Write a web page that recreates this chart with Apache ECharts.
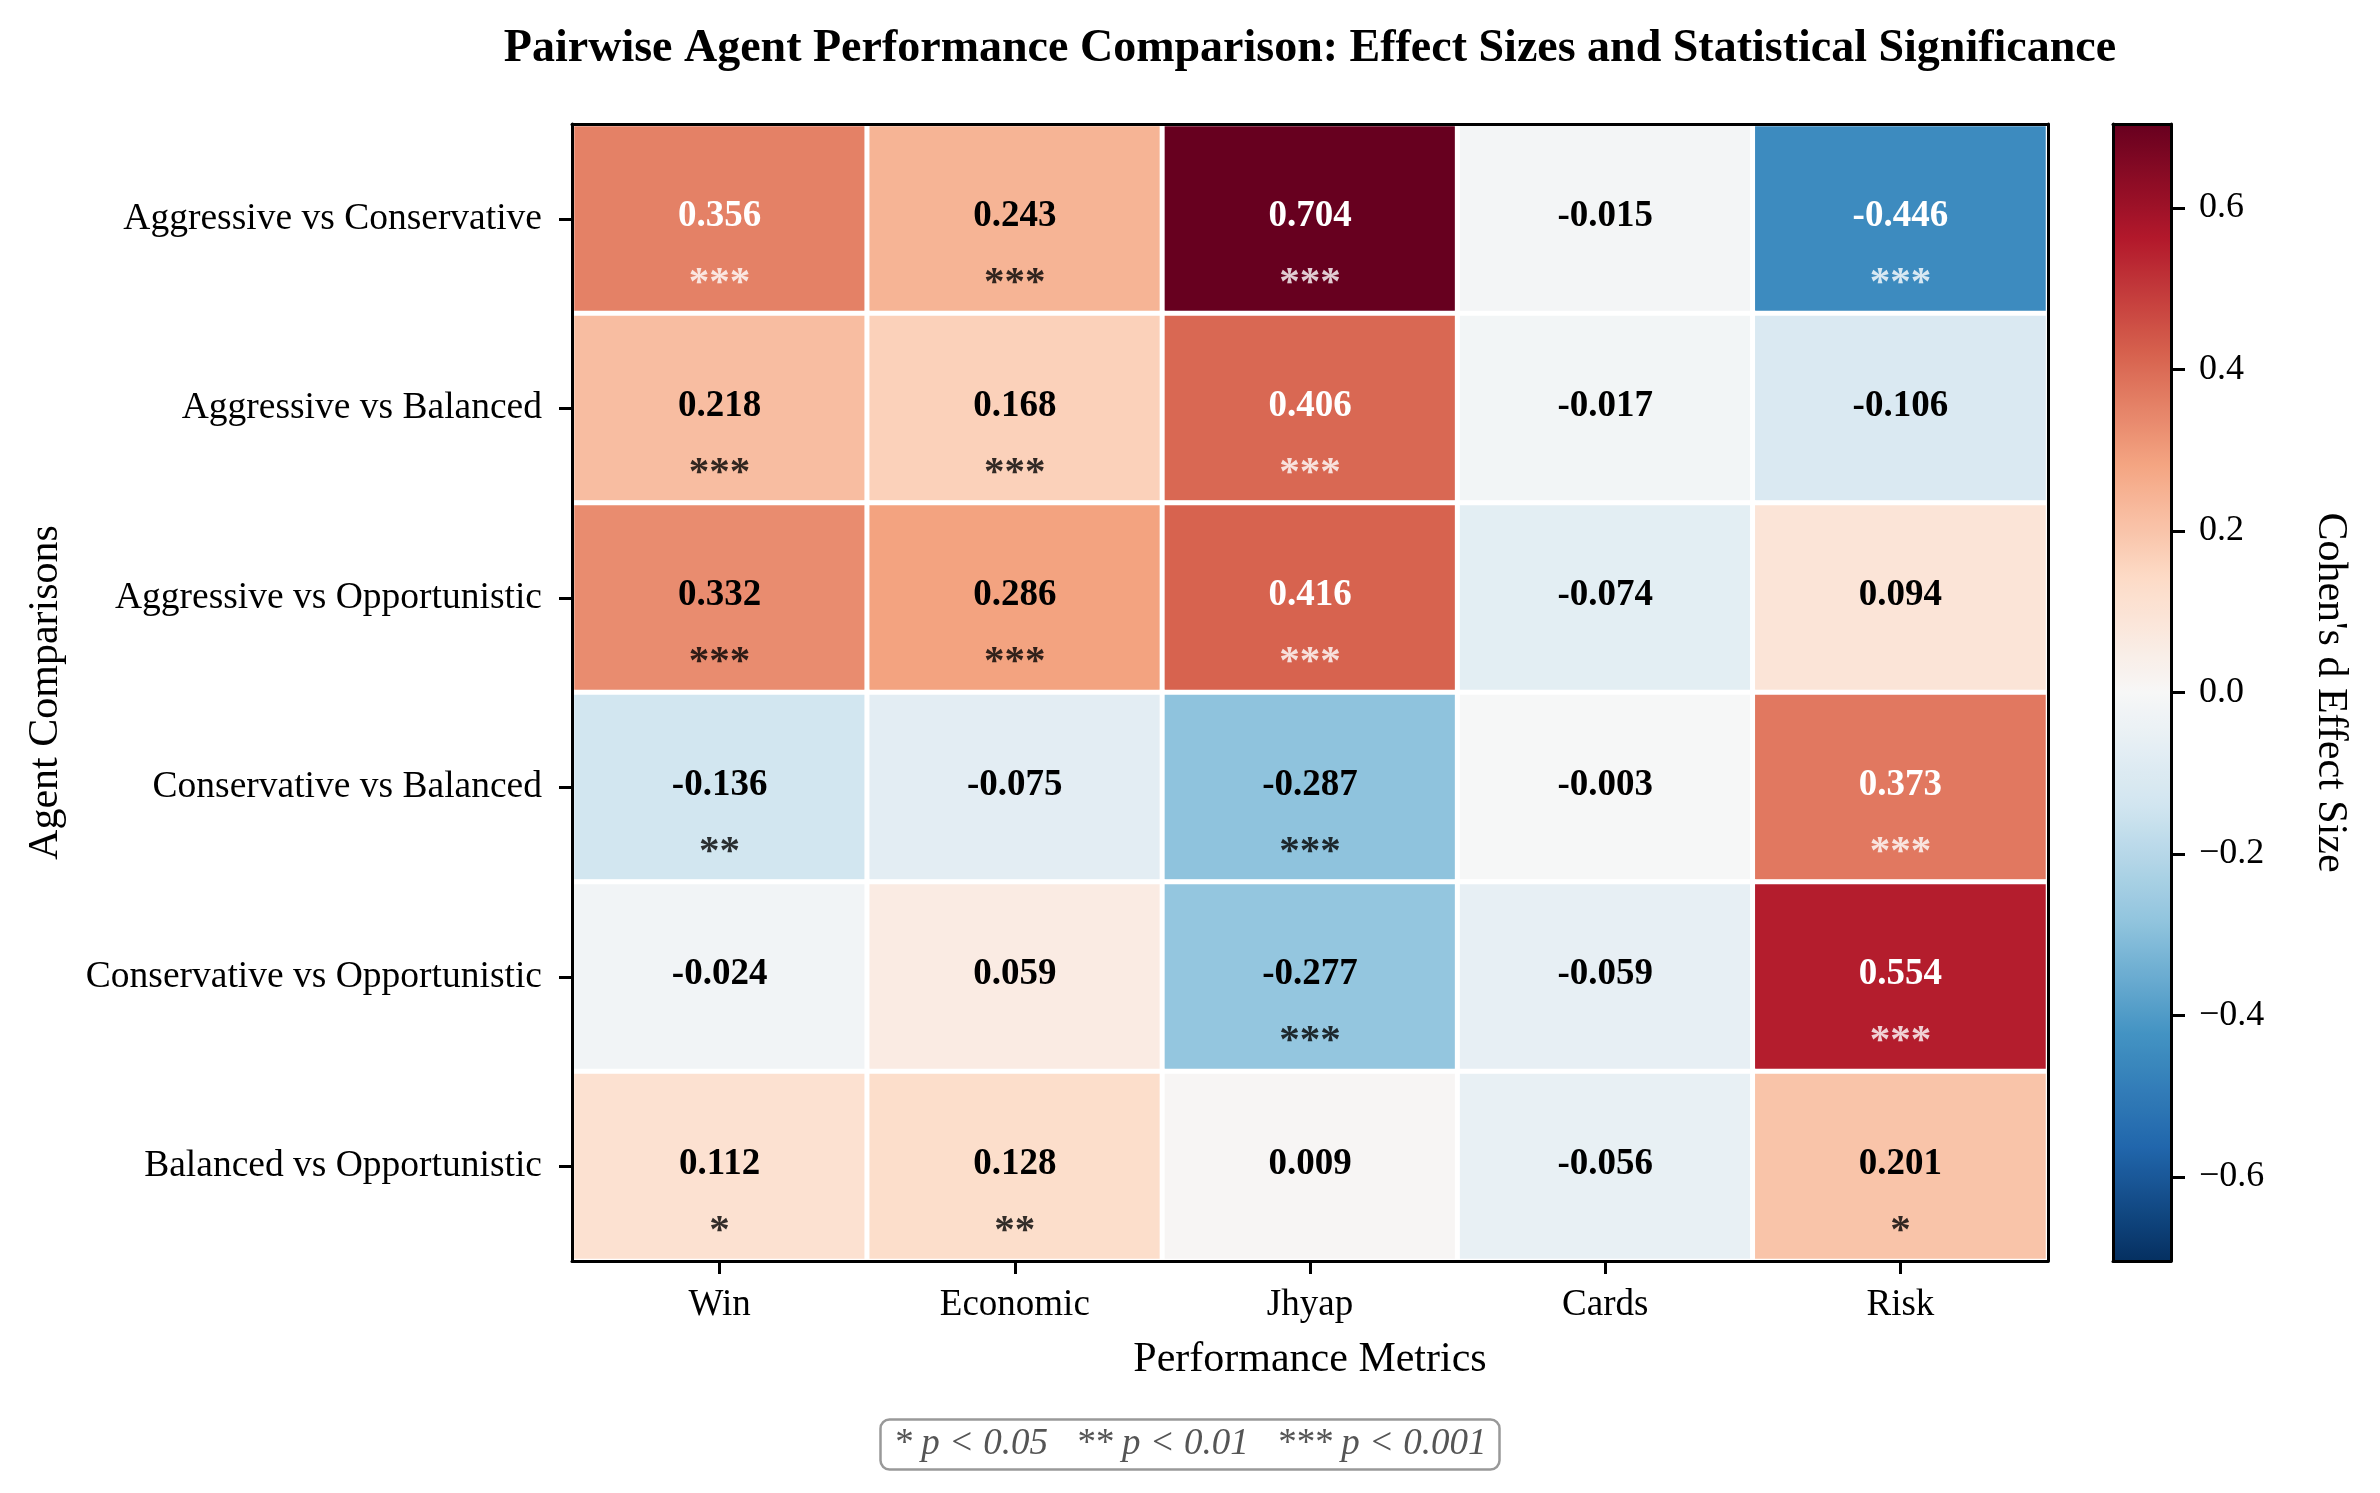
<!DOCTYPE html>
<html>
<head>
<meta charset="utf-8">
<script src="https://cdn.jsdelivr.net/npm/echarts@6/dist/echarts.min.js"></script>
<style>html,body{margin:0;padding:0;background:#fff;}#c{width:2380px;height:1493px;}</style>
</head>
<body>
<div id="c"></div>
<script>
const metrics = ['Win', 'Economic', 'Jhyap', 'Cards', 'Risk'];
const comparisons = [
  'Aggressive vs Conservative',
  'Aggressive vs Balanced',
  'Aggressive vs Opportunistic',
  'Conservative vs Balanced',
  'Conservative vs Opportunistic',
  'Balanced vs Opportunistic'
];
const effectSizes = [
  [0.356, 0.243, 0.704, -0.015, -0.446],
  [0.218, 0.168, 0.406, -0.017, -0.106],
  [0.332, 0.286, 0.416, -0.074, 0.094],
  [-0.136, -0.075, -0.287, -0.003, 0.373],
  [-0.024, 0.059, -0.277, -0.059, 0.554],
  [0.112, 0.128, 0.009, -0.056, 0.201]
];
const significance = [
  ['***', '***', '***', '', '***'],
  ['***', '***', '***', '', ''],
  ['***', '***', '***', '', ''],
  ['**', '', '***', '', '***'],
  ['', '', '***', '', '***'],
  ['*', '**', '', '', '*']
];
const colorbarTicks = [-0.6, -0.4, -0.2, 0, 0.2, 0.4, 0.6];
const vmax = 0.704;
const rdbuR = ['#053061','#2166ac','#4393c3','#92c5de','#d1e5f0','#f7f7f7','#fddbc7','#f4a582','#d6604d','#b2182b','#67001f'];

const FONT = 'Liberation Serif';
const txtColor = v => Math.abs(v) > vmax / 2 ? '#ffffff' : '#000000';

const heatData = [];
const starData = [];
effectSizes.forEach((row, i) => {
  row.forEach((v, j) => {
    heatData.push({ value: [j, i, v], label: { color: txtColor(v) } });
    if (significance[i][j]) {
      starData.push({ value: [j, i], stars: significance[i][j], label: { color: txtColor(v) } });
    }
  });
});

const fmtMinus = v => Number(v).toFixed(1).replace('-', '\u2212');

const blackLine = { show: true, onZero: false, lineStyle: { color: '#000', width: 3 } };
const tickStyle = { color: '#000', width: 3 };

const PLOT = { left: 572, top: 124, width: 1476, height: 1137 };
const CBAR = { left: 2113, top: 124, width: 58, height: 1137 };

const option = {
  backgroundColor: '#ffffff',
  animation: false,
  title: [
    {
      text: 'Pairwise Agent Performance Comparison: Effect Sizes and Statistical Significance',
      left: PLOT.left + PLOT.width / 2, top: 26, textAlign: 'center', padding: 0,
      textStyle: { fontFamily: FONT, fontSize: 46, fontWeight: 'bold', color: '#000' }
    },
    {
      text: '* p < 0.05   ** p < 0.01   *** p < 0.001',
      left: 'center', top: 1419,
      padding: [7, 13],
      borderColor: '#999999', borderWidth: 2.5, borderRadius: 9,
      backgroundColor: '#ffffff',
      textStyle: { fontFamily: FONT, fontSize: 37, fontStyle: 'italic', fontWeight: 'normal', color: '#555555' }
    }
  ],
  grid: [
    Object.assign({ containLabel: false }, PLOT),
    Object.assign({ containLabel: false }, CBAR)
  ],
  xAxis: [
    {
      type: 'category', data: metrics, gridIndex: 0, position: 'bottom', z: 10,
      axisLine: blackLine,
      axisTick: { show: true, alignWithLabel: true, length: 13, lineStyle: tickStyle },
      axisLabel: { fontFamily: FONT, fontSize: 37, color: '#000', margin: 26 },
      splitLine: { show: false },
      name: 'Performance Metrics', nameLocation: 'middle', nameGap: 78,
      nameTextStyle: { fontFamily: FONT, fontSize: 42, color: '#000' }
    },
    {
      type: 'category', data: metrics, gridIndex: 0, position: 'top', z: 10,
      axisLine: blackLine, axisTick: { show: false }, axisLabel: { show: false }, splitLine: { show: false }
    },
    {
      type: 'category', data: [''], gridIndex: 1, position: 'bottom', z: 10,
      axisLine: blackLine, axisTick: { show: false }, axisLabel: { show: false }, splitLine: { show: false }
    },
    {
      type: 'category', data: [''], gridIndex: 1, position: 'top', z: 10,
      axisLine: blackLine, axisTick: { show: false }, axisLabel: { show: false }, splitLine: { show: false }
    }
  ],
  yAxis: [
    {
      type: 'category', data: comparisons, gridIndex: 0, position: 'left', inverse: true, z: 10,
      axisLine: blackLine,
      axisTick: { show: true, alignWithLabel: true, length: 13, lineStyle: tickStyle },
      axisLabel: { fontFamily: FONT, fontSize: 37.5, color: '#000', margin: 30 },
      splitLine: { show: false },
      name: 'Agent Comparisons', nameLocation: 'middle', nameGap: 505,
      nameTextStyle: { fontFamily: FONT, fontSize: 42, color: '#000' }
    },
    {
      type: 'category', data: comparisons, gridIndex: 0, position: 'right', inverse: true, z: 10,
      axisLine: blackLine, axisTick: { show: false }, axisLabel: { show: false }, splitLine: { show: false }
    },
    {
      type: 'value', gridIndex: 1, position: 'right', min: -vmax, max: vmax, z: 10,
      axisLine: blackLine,
      axisTick: { show: true, customValues: colorbarTicks, length: 14, lineStyle: tickStyle },
      axisLabel: { show: true, customValues: colorbarTicks, formatter: fmtMinus, align: 'left',
        fontFamily: FONT, fontSize: 36, color: '#000', margin: 28 },
      splitLine: { show: false },
      name: "Cohen's d Effect Size", nameLocation: 'middle', nameRotate: -90, nameGap: 138,
      nameTextStyle: { fontFamily: FONT, fontSize: 42, color: '#000' }
    },
    {
      type: 'value', gridIndex: 1, position: 'left', min: -vmax, max: vmax, z: 10,
      axisLine: blackLine, axisTick: { show: false }, axisLabel: { show: false }, splitLine: { show: false }
    }
  ],
  visualMap: {
    type: 'continuous', min: -vmax, max: vmax, seriesIndex: 0, dimension: 2,
    calculable: false, left: CBAR.left, top: CBAR.top, itemWidth: CBAR.width, itemHeight: CBAR.height,
    padding: 0, text: null, showLabel: false, hoverLink: false,
    inRange: { color: rdbuR }
  },
  series: [
    {
      type: 'heatmap', xAxisIndex: 0, yAxisIndex: 0, data: heatData,
      itemStyle: { borderColor: '#ffffff', borderWidth: 5 },
      label: {
        show: true, fontFamily: FONT, fontSize: 37, fontWeight: 'bold', offset: [0, -2],
        formatter: p => p.value[2].toFixed(3)
      },
      emphasis: { disabled: true }
    },
    {
      type: 'scatter', xAxisIndex: 0, yAxisIndex: 0, data: starData, symbolSize: 0, silent: true, z: 5,
      label: {
        show: true, position: 'inside', fontFamily: FONT, fontSize: 41, fontWeight: 'bold', offset: [0, 65],
        formatter: p => p.data.stars
      }
    }
  ]
};

const chart = echarts.init(document.getElementById('c'));
chart.setOption(option);
</script>
</body>
</html>
